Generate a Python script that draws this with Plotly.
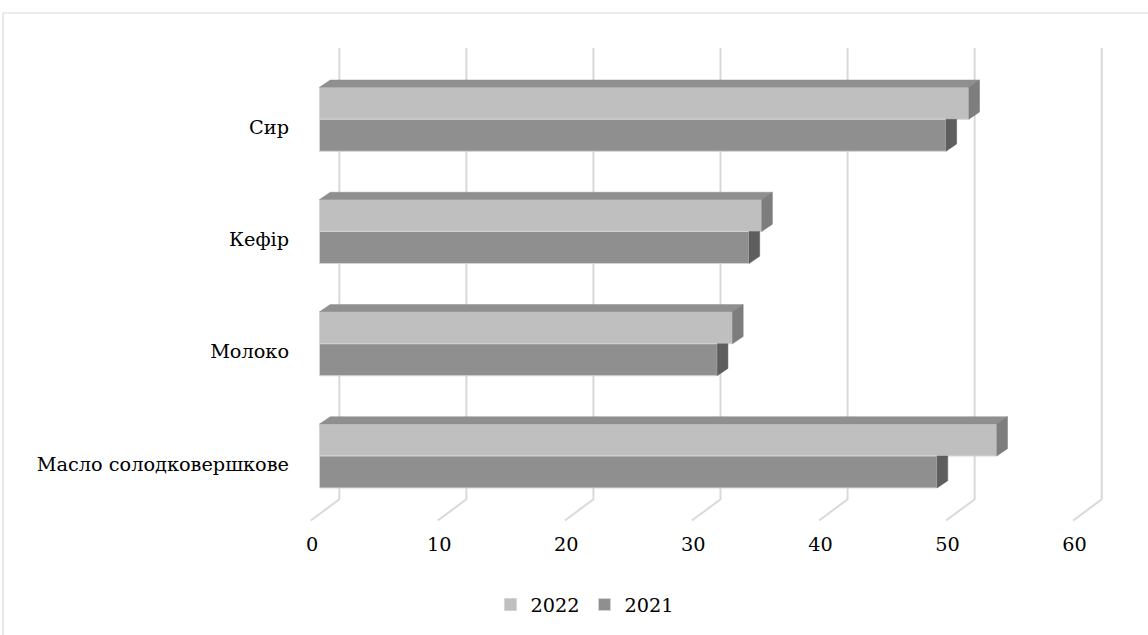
import plotly.graph_objects as go

# Survey data
categories = ["Сир", "Кефір", "Молоко", "Масло солодковершкове"]
values_2022 = [51.1, 34.8, 32.5, 53.3]
values_2021 = [49.3, 33.8, 31.3, 48.6]
x_ticks = [0, 10, 20, 30, 40, 50, 60]
series_names = ["2022", "2021"]

# Colours for the front, top and side faces of the pseudo-3D bars
FRONT_2022, TOP_2022, SIDE_2022 = "#bfbfbf", "#8f8f8f", "#7d7d7d"
FRONT_2021, SIDE_2021 = "#8f8f8f", "#5e5e5e"
EDGE = "#d4d4d4"
GRID = "#d9d9d9"
SERIF = "DejaVu Serif"
FONT_SIZE = 19.3

# Geometry of the oblique projection, in axis units
BAR_H = 0.285          # thickness of each bar (category units)
DEPTH_X = 0.842        # bar depth, horizontal component (value units)
DEPTH_Y = 0.065        # bar depth, vertical component (category units)
WALL_SHIFT = 1.558     # back wall plane relative to the bar front plane
FLOOR_SHIFT = -0.69    # front edge of the floor
LABEL_SHIFT = -0.58    # value tick labels sit on the floor front edge
WALL_TOP, WALL_BOTTOM, FLOOR_FRONT = -0.635, 3.386, 3.575
CAT_LABEL_SHIFT = 0.071

idx = list(range(len(categories)))

fig = go.Figure()

# Front faces
fig.add_trace(go.Bar(
    y=idx, x=values_2022, orientation="h", name=series_names[0],
    width=BAR_H, offset=-BAR_H, base=0,
    marker=dict(color=FRONT_2022, line=dict(color=EDGE, width=1)),
    hoverinfo="skip",
))
fig.add_trace(go.Bar(
    y=idx, x=values_2021, orientation="h", name=series_names[1],
    width=BAR_H, offset=0, base=0,
    marker=dict(color=FRONT_2021, line=dict(color=EDGE, width=1)),
    hoverinfo="skip",
))


def polys(faces):
    xs, ys = [], []
    for px, py in faces:
        xs += px + [None]
        ys += py + [None]
    return xs, ys


# Top faces of the upper (2022) bars and the right-hand sides of both bars
top, side22, side21 = [], [], []
for i, v, w in zip(idx, values_2022, values_2021):
    y0 = i - BAR_H
    top.append(([0, v, v + DEPTH_X, DEPTH_X, 0],
                [y0, y0, y0 - DEPTH_Y, y0 - DEPTH_Y, y0]))
    side22.append(([v, v + DEPTH_X, v + DEPTH_X, v, v],
                   [y0, y0 - DEPTH_Y, i - DEPTH_Y, i, y0]))
    # the upper part of the lower bar's side is hidden behind the upper bar
    side21.append(([w, w + DEPTH_X, w + DEPTH_X, w, w],
                   [i, i, i + BAR_H - DEPTH_Y, i + BAR_H, i]))

for faces, color in ((top, TOP_2022), (side22, SIDE_2022), (side21, SIDE_2021)):
    xs, ys = polys(faces)
    fig.add_trace(go.Scatter(
        x=xs, y=ys, mode="lines", fill="toself", fillcolor=color,
        line=dict(color=color, width=0.5), showlegend=False, hoverinfo="skip",
    ))

# Gridlines on the back wall, bending forward along the floor
for t in x_ticks:
    xb = t + WALL_SHIFT
    xf = t + FLOOR_SHIFT
    fig.add_shape(
        type="path", xref="x", yref="y", layer="below",
        path=f"M {xb},{WALL_TOP} L {xb},{WALL_BOTTOM} L {xf},{FLOOR_FRONT}",
        line=dict(color=GRID, width=2),
    )

# Chart frame
fig.add_shape(
    type="rect", xref="paper", yref="paper",
    x0=-0.3502, y0=-0.25, x1=1.05, y1=0.9755,
    line=dict(color=GRID, width=1.2), fillcolor="rgba(0,0,0,0)", layer="below",
)

fig.update_layout(
    width=1148, height=635,
    margin=dict(l=300, r=0, t=0, b=105),
    paper_bgcolor="white", plot_bgcolor="white",
    font=dict(family=SERIF, size=FONT_SIZE, color="#000000"),
    barmode="overlay",
    showlegend=True,
    legend=dict(
        orientation="h", x=0.336, xanchor="center", y=-0.1415, yanchor="middle",
        font=dict(family=SERIF, size=FONT_SIZE), itemwidth=30, bgcolor="rgba(0,0,0,0)",
    ),
    xaxis=dict(
        range=[-1.5346, 65.20], showgrid=False, zeroline=False, showline=False,
        tickvals=[t + LABEL_SHIFT for t in x_ticks], ticktext=[str(t) for t in x_ticks],
        tickfont=dict(family=SERIF, size=FONT_SIZE),
        ticks="", ticklabelstandoff=1, fixedrange=True,
    ),
    yaxis=dict(
        range=[3.6594, -1.063], showgrid=False, zeroline=False, showline=False,
        tickvals=[i + CAT_LABEL_SHIFT for i in idx], ticktext=categories,
        tickfont=dict(family=SERIF, size=FONT_SIZE),
        ticks="", ticklabelstandoff=10, fixedrange=True,
    ),
)

fig.write_html("out.html")
